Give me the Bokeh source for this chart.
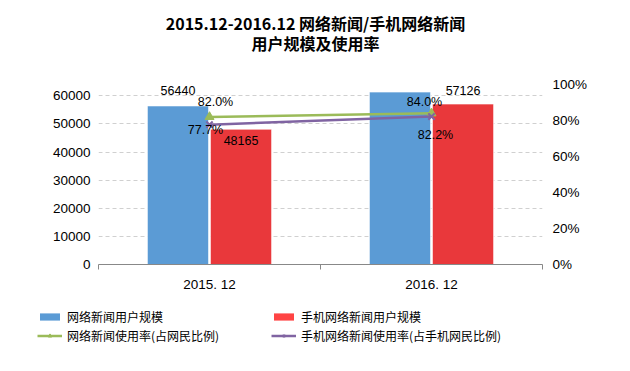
from bokeh.plotting import figure
from bokeh.layouts import column
from bokeh.models import (ColumnDataSource, LinearAxis, Range1d, FixedTicker, NumeralTickFormatter,
                          Label, Legend, LegendItem)
from bokeh.embed import file_html
from bokeh.resources import INLINE

categories = ["2015. 12", "2016. 12"]
news_users = [56440, 61390]
mobile_news_users = [48165, 57126]
news_rate = [0.820, 0.840]
mobile_news_rate = [0.777, 0.822]
news_rate_labels = ["82.0%", "84.0%"]
mobile_rate_labels = ["77.7%", "82.2%"]
left_ticks = [0, 10000, 20000, 30000, 40000, 50000, 60000]
right_ticks = [0, 0.2, 0.4, 0.6, 0.8, 1.0]

title1 = "2015.12-2016.12 网络新闻/手机网络新闻"
title2 = "用户规模及使用率"
name_news = "网络新闻用户规模"
name_mobile = "手机网络新闻用户规模"
name_news_rate = "网络新闻使用率(占网民比例)"
name_mobile_rate = "手机网络新闻使用率(占手机网民比例)"

BLUE = "#5B9BD5"
RED = "#E9383B"
GREEN = "#9BBB59"
PURPLE = "#8064A2"
LATIN = "Liberation Sans"
CJK = "Noto Sans CJK SC"

xc = [i + 0.5 for i in range(len(categories))]
bw = 0.276
off = 0.142
xb = [x - off for x in xc]
xr = [x + off for x in xc]

src = ColumnDataSource(dict(xc=xc, xb=xb, xr=xr, news=news_users, mobile=mobile_news_users,
                            rate=news_rate, mrate=mobile_news_rate))


def plain(fig):
    fig.frame_align = False
    fig.axis.visible = False
    fig.grid.visible = False
    fig.outline_line_color = None
    fig.background_fill_color = "white"
    fig.border_fill_color = "white"


# ---- title strip
tf = figure(width=630, height=58, x_range=Range1d(0, 1), y_range=Range1d(0, 1),
            output_backend="svg", toolbar_location=None,
            min_border_left=0, min_border_right=0, min_border_top=0, min_border_bottom=0)
plain(tf)
t_kw = dict(x_units="screen", y_units="screen", text_font=CJK, text_font_style="bold",
            text_font_size="16px", text_color="#000000", text_align="center", text_baseline="middle")
tf.add_layout(Label(x=315, y=36, text=title1, **t_kw))
tf.add_layout(Label(x=315, y=16, text=title2, **t_kw))

# ---- main chart
p = figure(width=630, height=242, x_range=Range1d(0, 2), y_range=Range1d(0, 64050),
           output_backend="svg", toolbar_location=None,
           min_border_left=98, min_border_right=88, min_border_top=26, min_border_bottom=36)
p.frame_align = False
p.outline_line_color = None
p.background_fill_color = "white"
p.border_fill_color = "white"
p.extra_y_ranges = {"pct": Range1d(0, 1)}

p.xgrid.visible = False
p.ygrid.ticker = FixedTicker(ticks=left_ticks[1:])
p.ygrid.grid_line_color = "#D0D0D0"
p.ygrid.grid_line_dash = "4 3"

ya = p.yaxis[0]
ya.ticker = FixedTicker(ticks=left_ticks)
ya.axis_line_color = None
ya.major_tick_line_color = None
ya.minor_tick_line_color = None
ya.major_tick_out = 0
ya.major_label_standoff = 8
ya.major_label_text_font = LATIN
ya.major_label_text_font_size = "13.5px"
ya.major_label_text_color = "#000000"

ra = LinearAxis(y_range_name="pct", ticker=FixedTicker(ticks=right_ticks),
                formatter=NumeralTickFormatter(format="0%"))
ra.axis_line_color = None
ra.major_tick_line_color = None
ra.minor_tick_line_color = None
ra.major_tick_out = 0
ra.major_label_standoff = 10
ra.major_label_text_font = LATIN
ra.major_label_text_font_size = "13.5px"
ra.major_label_text_color = "#000000"
p.add_layout(ra, "right")

xa = p.xaxis[0]
xa.ticker = FixedTicker(ticks=xc, minor_ticks=[0, 1, 2])
xa.major_label_overrides = {x: c for x, c in zip(xc, categories)}
xa.major_tick_line_color = None
xa.major_tick_out = 0
xa.minor_tick_in = 0
xa.minor_tick_out = 5
xa.minor_tick_line_color = "#888888"
xa.axis_line_color = "#888888"
xa.major_label_standoff = 7
xa.major_label_text_font = LATIN
xa.major_label_text_font_size = "13.5px"
xa.major_label_text_color = "#000000"

p.vbar(x="xb", top="news", width=bw, source=src, fill_color=BLUE,
       line_color="#FFFFFF", line_alpha=0.7, line_width=1)
p.vbar(x="xr", top="mobile", width=bw, source=src, fill_color=RED,
       line_color="#FFFFFF", line_alpha=0.7, line_width=1)

p.line(x="xc", y="rate", source=src, y_range_name="pct", line_color=GREEN, line_width=2.5)
p.scatter(x="xc", y="rate", source=src, y_range_name="pct", marker="triangle",
          size=9, fill_color=GREEN, line_color=GREEN)
p.line(x="xc", y="mrate", source=src, y_range_name="pct", line_color=PURPLE, line_width=2.5)
p.scatter(x="xc", y="mrate", source=src, y_range_name="pct", marker="x",
          size=9, line_color=PURPLE, line_width=2)

lk = dict(text_font=LATIN, text_font_size="12.5px", text_color="#000000",
          text_align="center", text_baseline="middle")


def add_label(x, y, text, dx, dy, rng="default"):
    p.add_layout(Label(x=x, y=y, text=text, x_offset=dx, y_offset=dy, y_range_name=rng, **lk))


add_label(xb[0], news_users[0], str(news_users[0]), 0, 15)
add_label(xb[1], news_users[1], str(news_users[1]), 0, 13)
add_label(xr[0], mobile_news_users[0], str(mobile_news_users[0]), 0, -11)
add_label(xr[1], mobile_news_users[1], str(mobile_news_users[1]), 0, 13)
add_label(xc[0], news_rate[0], news_rate_labels[0], 6, 15, "pct")
add_label(xc[1], news_rate[1], news_rate_labels[1], -7, 11, "pct")
add_label(xc[0], mobile_news_rate[0], mobile_rate_labels[0], -4, -5, "pct")
add_label(xc[1], mobile_news_rate[1], mobile_rate_labels[1], 4, -18, "pct")

# ---- legend strip
lf = figure(width=630, height=71, x_range=Range1d(0, 1), y_range=Range1d(0, 1),
            output_backend="svg", toolbar_location=None,
            min_border_left=0, min_border_right=0, min_border_top=0, min_border_bottom=0)
plain(lf)
dummy = ColumnDataSource(dict(x=[-5], y=[-5]))
g1 = lf.vbar(x="x", top="y", width=0.1, source=dummy, fill_color=BLUE, line_color=None)
g2 = lf.vbar(x="x", top="y", width=0.1, source=dummy, fill_color="#FF4444", line_color=None)
g3 = lf.line(x="x", y="y", source=dummy, line_color=GREEN, line_width=2.5)
g3m = lf.scatter(x="x", y="y", source=dummy, marker="triangle", size=8, fill_color=GREEN, line_color=GREEN)
g4 = lf.line(x="x", y="y", source=dummy, line_color=PURPLE, line_width=2.5)
g4m = lf.scatter(x="x", y="y", source=dummy, marker="x", size=8, line_color=PURPLE, line_width=1.5)

leg_kw = dict(padding=0, margin=0, border_line_color=None, background_fill_alpha=0,
              glyph_width=25, glyph_height=9, label_standoff=5, spacing=2, label_height=16,
              label_text_font=CJK, label_text_font_size="12px", label_text_color="#000000")
legA = Legend(items=[LegendItem(label=name_news, renderers=[g1]),
                     LegendItem(label=name_news_rate, renderers=[g3, g3m])],
              location=(37, 27), **leg_kw)
legB = Legend(items=[LegendItem(label=name_mobile, renderers=[g2]),
                     LegendItem(label=name_mobile_rate, renderers=[g4, g4m])],
              location=(271, 27), **leg_kw)
lf.add_layout(legA, "center")
lf.add_layout(legB, "center")

layout = column(tf, p, lf, spacing=0)
open("out.html", "w").write(file_html(layout, INLINE))
